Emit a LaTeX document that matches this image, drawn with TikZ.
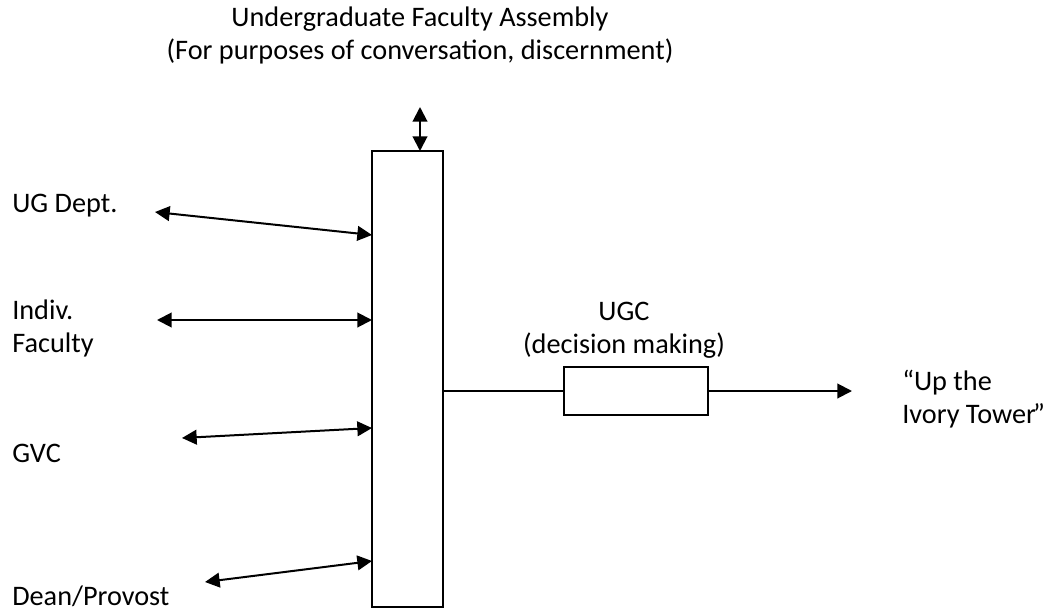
\documentclass[tikz,border=0pt]{standalone}
\usepackage{fontspec}
\setmainfont{Carlito}
\usetikzlibrary{arrows.meta}
\begin{document}
\begin{tikzpicture}[x=0.75pt,y=-0.75pt,
  txt/.style={font=\fontsize{21.2}{24.75}\selectfont, inner sep=0pt},
  lbl/.style={txt, anchor=base west, align=left},
  ctr/.style={txt, anchor=base, align=center},
  tip/.tip={Triangle[length=11pt,width=11pt]},
  conn/.style={line width=1.5pt, tip-tip},
  flow/.style={line width=1.5pt, -tip},
  plain/.style={line width=1.5pt},
  boxs/.style={draw, line width=1.5pt, inner sep=0pt, fill=white}]
\useasboundingbox (0,0) rectangle (1057,610);
% boxes
\node[boxs, minimum width=53.25pt, minimum height=342pt] (main) at (407.5,379) {};
\node[boxs, minimum width=108pt, minimum height=36pt] (ugc) at (636,391) {};
% texts (base = baseline of last line)
\node[ctr] (title) at (420,60) {Undergraduate Faculty Assembly\\(For purposes of conversation, discernment)};
\node[lbl] (ug) at (12,212) {UG Dept.};
\node[lbl] (indiv) at (12,352) {Indiv.\\Faculty};
\node[lbl] (gvc) at (12,462) {GVC};
\node[lbl] (dean) at (12,605) {Dean/Provost};
\node[ctr] (ugct) at (624,353) {UGC\\(decision making)};
\node[lbl] (ivory) at (902,423) {“Up the\\Ivory Tower\kern-0.1em”};
% connector end points
\coordinate (t1) at (420,107);
\coordinate (t2) at (420,151);
\coordinate (a1) at (155,212);
\coordinate (b1) at (372,235);
\coordinate (a2) at (157,320);
\coordinate (b2) at (372,320);
\coordinate (a3) at (182,438);
\coordinate (b3) at (372,428);
\coordinate (a4) at (205,582);
\coordinate (b4) at (372,561);
\coordinate (out) at (852,391);
% connectors
\draw[conn] (t1) -- (t2);
\draw[conn] (a1) -- (b1);
\draw[conn] (a2) -- (b2);
\draw[conn] (a3) -- (b3);
\draw[conn] (a4) -- (b4);
\draw[plain] (ugc.west -| main.east) -- (ugc.west);
\draw[flow] (ugc.east) -- (out);
\end{tikzpicture}
\end{document}
